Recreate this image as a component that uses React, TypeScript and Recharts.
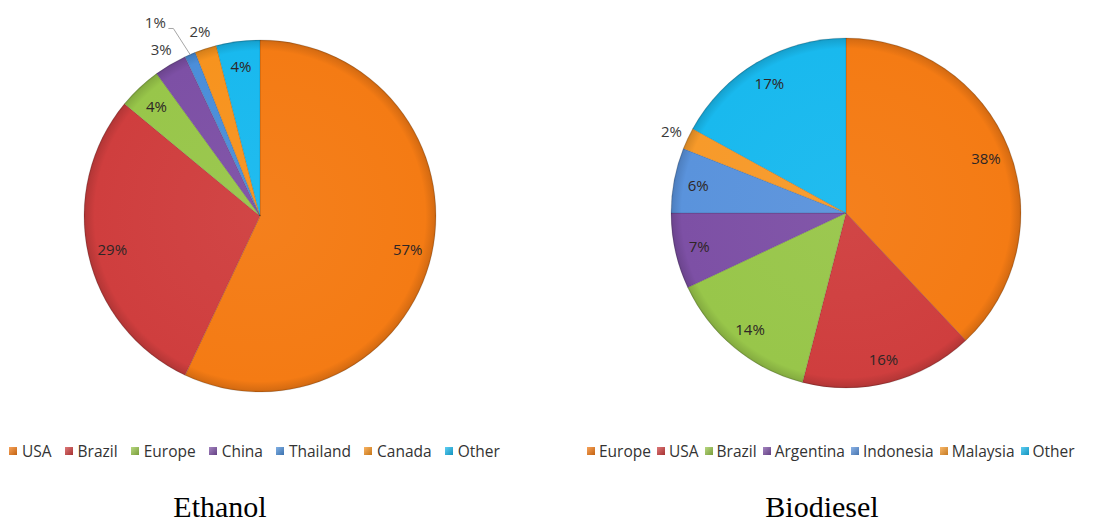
import React from 'react';
import { PieChart, Pie, Cell } from 'recharts';

const ethanolNames = ['USA', 'Brazil', 'Europe', 'China', 'Thailand', 'Canada', 'Other'];
const ethanolValues = [57, 29, 4, 3, 1, 2, 4];
const ethanolColors = ['#F47B14', '#CF3E3E', '#98C64A', '#7D50A5', '#4B8ED9', '#F7931E', '#19B9EE'];

const biodieselNames = ['Europe', 'USA', 'Brazil', 'Argentina', 'Indonesia', 'Malaysia', 'Other'];
const biodieselValues = [38, 16, 14, 7, 6, 2, 17];
const biodieselColors = ['#F47B14', '#CF3E3E', '#98C64A', '#7D50A5', '#5A93DC', '#F79A2A', '#19B9EE'];

const captions = ['Ethanol', 'Biodiesel'];

const ethanolData = ethanolNames.map((name, i) => ({ name, value: ethanolValues[i] }));
const biodieselData = biodieselNames.map((name, i) => ({ name, value: biodieselValues[i] }));

const W = 1108;
const H = 523;
const LEFT = { cx: 260, cy: 216, r: 176 };
const RIGHT = { cx: 846, cy: 213, r: 175 };
const RAD = Math.PI / 180;
const LABEL_FONT = '"Open Sans", "Noto Sans", sans-serif';

function shade(hex: string, f: number): string {
  const n = parseInt(hex.slice(1), 16);
  const r = (n >> 16) & 255;
  const g = (n >> 8) & 255;
  const b = n & 255;
  const m = (c: number) => Math.max(0, Math.min(255, Math.round(f < 0 ? c * (1 + f) : c + (255 - c) * f)));
  return `rgb(${m(r)},${m(g)},${m(b)})`;
}

const renderLabel = (props: any) => {
  const { cx, cy, midAngle, outerRadius, percent } = props;
  const text = `${Math.round(percent * 100)}%`;
  const style = { fontFamily: LABEL_FONT, fontSize: 15 } as React.CSSProperties;
  if (percent < 0.015) {
    const a = (midAngle + 5) * RAD;
    const rr = outerRadius + 44;
    const x = cx + rr * Math.cos(a);
    const y = cy - rr * Math.sin(a);
    const ex = cx + outerRadius * Math.cos(midAngle * RAD);
    const ey = cy - outerRadius * Math.sin(midAngle * RAD);
    return (
      <g>
        <polyline
          points={`${ex},${ey} ${x + 18},${y + 6} ${x + 13},${y + 6}`}
          fill="none"
          stroke="#A6A6A6"
          strokeWidth={1}
        />
        <text x={x} y={y} textAnchor="middle" dominantBaseline="central" fill="#3a3a3a" style={style}>
          {text}
        </text>
      </g>
    );
  }
  const outside = percent <= 0.03;
  const rr = outside ? outerRadius + 18 : outerRadius * 0.86;
  const x = cx + rr * Math.cos(midAngle * RAD);
  const y = cy - rr * Math.sin(midAngle * RAD);
  return (
    <text x={x} y={y} textAnchor="middle" dominantBaseline="central" fill={outside ? '#3a3a3a' : '#2e2626'} style={style}>
      {text}
    </text>
  );
};

function Legend({ names, colors, left, gap, textGap }: { names: string[]; colors: string[]; left: number; gap: number; textGap: number }) {
  return (
    <div
      style={{
        position: 'absolute',
        left,
        top: 441,
        height: 20,
        display: 'flex',
        alignItems: 'center',
        whiteSpace: 'nowrap',
        fontFamily: LABEL_FONT,
        fontSize: 15.5,
        color: '#333',
        gap,
      }}
    >
      {names.map((n, i) => (
        <div key={n + i} style={{ display: 'flex', alignItems: 'center', gap: textGap }}>
          <span
            style={{
              display: 'inline-block',
              width: 8,
              height: 8,
              background: `linear-gradient(135deg, ${shade(colors[i], 0.3)}, ${shade(colors[i], -0.2)})`,
            }}
          />
          <span>{n}</span>
        </div>
      ))}
    </div>
  );
}

function Gradients({ id, colors, c }: { id: string; colors: string[]; c: { cx: number; cy: number; r: number } }) {
  return (
    <>
      {colors.map((col, i) => (
        <radialGradient key={i} id={`${id}${i}`} gradientUnits="userSpaceOnUse" cx={c.cx} cy={c.cy} r={c.r}>
          <stop offset="0%" stopColor={shade(col, 0.04)} />
          <stop offset="94%" stopColor={col} />
          <stop offset="99%" stopColor={shade(col, -0.12)} />
          <stop offset="100%" stopColor={shade(col, -0.25)} />
        </radialGradient>
      ))}
    </>
  );
}

const captionStyle: React.CSSProperties = {
  position: 'absolute',
  width: 200,
  top: 492,
  textAlign: 'center',
  fontFamily: '"Liberation Serif", "Times New Roman", serif',
  fontSize: 30,
  lineHeight: '30px',
  color: '#000',
};

export default function App() {
  return (
    <div style={{ position: 'absolute', left: 0, top: 0, width: W, height: H, background: '#fff', overflow: 'hidden' }}>
      <PieChart width={W} height={H} margin={{ top: 0, right: 0, bottom: 0, left: 0 }}>
        <defs>
          <Gradients id="eg" colors={ethanolColors} c={LEFT} />
          <Gradients id="bg" colors={biodieselColors} c={RIGHT} />
        </defs>
        <Pie
          data={ethanolData}
          dataKey="value"
          nameKey="name"
          cx={LEFT.cx}
          cy={LEFT.cy}
          outerRadius={LEFT.r}
          startAngle={90}
          endAngle={-270}
          isAnimationActive={false}
          label={renderLabel}
          labelLine={false}
          stroke="rgba(0,0,0,0.12)"
          strokeWidth={1}
        >
          {ethanolData.map((d, i) => (
            <Cell key={d.name} fill={`url(#eg${i})`} />
          ))}
        </Pie>
        <Pie
          data={biodieselData}
          dataKey="value"
          nameKey="name"
          cx={RIGHT.cx}
          cy={RIGHT.cy}
          outerRadius={RIGHT.r}
          startAngle={90}
          endAngle={-270}
          isAnimationActive={false}
          label={renderLabel}
          labelLine={false}
          stroke="rgba(0,0,0,0.12)"
          strokeWidth={1}
        >
          {biodieselData.map((d, i) => (
            <Cell key={d.name} fill={`url(#bg${i})`} />
          ))}
        </Pie>
      </PieChart>
      <Legend names={ethanolNames} colors={ethanolColors} left={9} gap={13} textGap={5} />
      <Legend names={biodieselNames} colors={biodieselColors} left={587} gap={6} textGap={4} />
      <div style={{ ...captionStyle, left: 120 }}>{captions[0]}</div>
      <div style={{ ...captionStyle, left: 722 }}>{captions[1]}</div>
    </div>
  );
}
